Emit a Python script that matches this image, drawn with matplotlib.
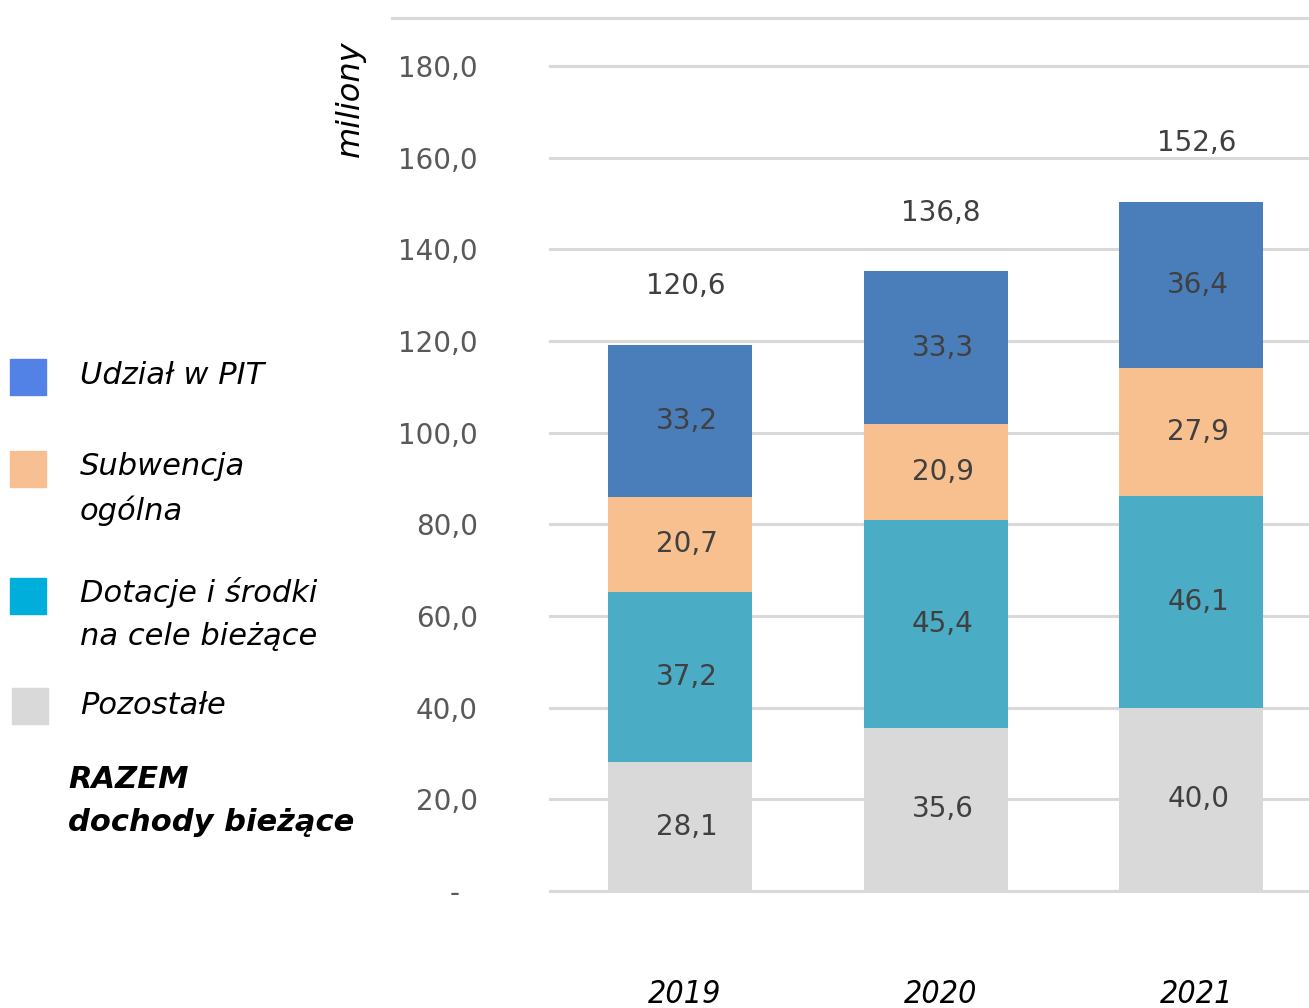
import matplotlib
matplotlib.use("Agg")
import matplotlib.pyplot as plt
from matplotlib.lines import Line2D
from matplotlib.patches import Rectangle
import numpy as np

years = ["2019", "2020", "2021"]
pozostale = [28.1, 35.6, 40.0]
dotacje = [37.2, 45.4, 46.1]
subwencja = [20.7, 20.9, 27.9]
pit = [33.2, 33.3, 36.4]
razem = [120.6, 136.8, 152.6]
yticks = [0, 20, 40, 60, 80, 100, 120, 140, 160, 180]

series = [
    (pozostale, "#D9D9D9"),
    (dotacje, "#4BACC6"),
    (subwencja, "#F9C08F"),
    (pit, "#4A7EBB"),
]

legend_items = [
    ("#5282E6", "Udział w PIT", 376, 10),
    ("#F8BF92", "Subwencja\nogólna", 489, 10),
    ("#00AEDB", "Dotacje i środki\nna cele bieżące", 614, 10),
    ("#D9D9D9", "Pozostałe", 706, 12),
]
legend_boxes = [377, 469, 596, 706]

W, H = 1309, 1008
fig = plt.figure(figsize=(W / 100, H / 100), dpi=100)
ax = fig.add_axes([550 / W, 1 - 891 / H, 1 - 550 / W, (891 - 66) / H])

lab_font = dict(fontsize=20, color="#404040", family="DejaVu Sans")

x = np.arange(len(years))
bottom = np.zeros(len(years))
for vals, col in series:
    ax.bar(x, vals, width=0.5625, bottom=bottom, color=col, zorder=2)
    for xi, b, v in zip(x, bottom, vals):
        lab = f"{v:.1f}".replace(".", ",")
        ax.annotate(lab, (xi, b + v / 2), xytext=(5, 0), textcoords="offset points",
                    ha="center", va="center", zorder=3, **lab_font)
    bottom += np.array(vals)

for xi, top, tot in zip(x, bottom, razem):
    ax.annotate(f"{tot:.1f}".replace(".", ","), (xi, top), xytext=(4, 42),
                textcoords="offset points", ha="center", va="center", **lab_font)

ax.set_xlim(-0.508, 2.46)
ax.set_ylim(0, 180)
ax.set_yticks(yticks)
ax.set_yticklabels(["-  "] + [f"{t:.1f}".replace(".", ",") for t in yticks[1:]],
                   fontsize=20, color="#595959")
ax.tick_params(axis="y", length=0, pad=52)
ax.tick_params(axis="x", length=0, labelbottom=False)
for t in yticks:
    ax.axhline(t, color="#D9D9D9", lw=2.2, zorder=1, clip_on=False)
for s in ax.spines.values():
    s.set_visible(False)

for xi, yr in zip(x, years):
    ax.text(xi + 0.02, -22.5, yr, ha="center", va="center", fontsize=23,
            style="italic", fontstretch="condensed",
            family=["Liberation Sans Narrow", "DejaVu Sans"], clip_on=False)

# top frame line
fig.add_artist(Line2D([392 / W, 1.0], [1 - 18 / H, 1 - 18 / H], color="#D9D9D9", lw=2.2))

fig.text(350 / W, 1 - 99 / H, "miliony", rotation=90, ha="center", va="center",
         fontsize=23, style="italic", family="DejaVu Sans")

# legend on the left
for (col, lab, yc, x0), yb in zip(legend_items, legend_boxes):
    fig.add_artist(Rectangle((x0 / W, 1 - (yb + 18) / H), 36 / W, 36 / H,
                             color=col, transform=fig.transFigure))
    fig.text(80 / W, 1 - yc / H, lab, ha="left", va="center", fontsize=22,
             style="italic", family="DejaVu Sans", linespacing=1.6)

fig.text(68 / W, 1 - 801 / H, "RAZEM\ndochody bieżące", ha="left", va="center",
         fontsize=22, style="italic", weight="bold",
         family="DejaVu Sans", linespacing=1.6)

fig.savefig("out.png", dpi=100)
